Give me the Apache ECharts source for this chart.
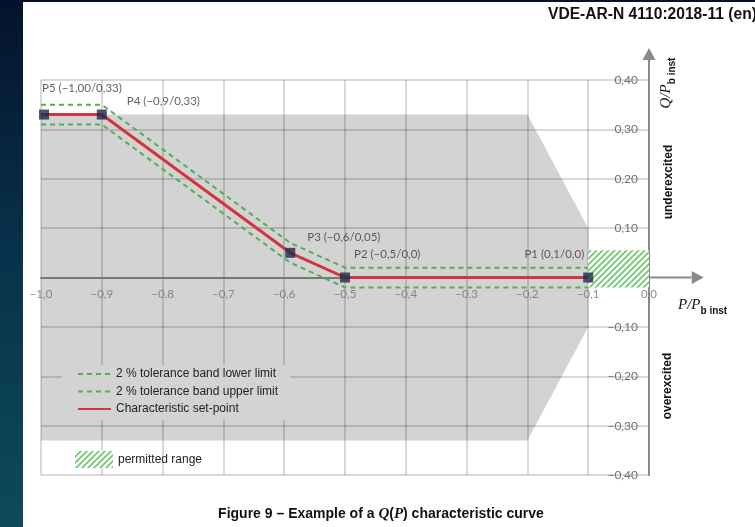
<!DOCTYPE html>
<html>
<head>
<meta charset="utf-8">
<script src="https://cdn.jsdelivr.net/npm/echarts@6.0.0/dist/echarts.min.js"></script>
<style>
html,body{margin:0;padding:0;width:755px;height:527px;overflow:hidden;}
body{background:linear-gradient(180deg,#04132b 0%,#08304a 45%,#0d4b5b 100%);}
#main{position:absolute;left:23px;top:2px;width:732px;height:525px;background:#fff;}
</style>
</head>
<body>
<div id="main"></div>
<script>
// Q(P) characteristic curve
var setpointP = [-1.0, -0.9, -0.59, -0.5, -0.1];
var setpointQ = [0.33, 0.33, 0.05, 0.0, 0.0];
var upperP = [-1.0, -0.9, -0.59, -0.5, -0.1];
var upperQ = [0.35, 0.35, 0.07, 0.02, 0.02];
var lowerP = [-1.0, -0.9, -0.59, -0.5, -0.1];
var lowerQ = [0.31, 0.31, 0.03, -0.02, -0.02];
var pointP = [-0.995, -0.9, -0.59, -0.5, -0.1];
var pointQ = [0.33, 0.33, 0.05, 0.0, 0.0];
var pointNames = ['P5 (\u22121,00/0,33)', 'P4 (\u22120,9/0,33)', 'P3 (\u22120,6/0,05)', 'P2 (\u22120,5/0,0)', 'P1 (0,1/0,0)'];
var grayP = [-1.0, -0.2, -0.1, -0.1, -0.2, -1.0];
var grayQ = [0.33, 0.33, 0.10, -0.10, -0.33, -0.33];
var hatchP = [-0.1, 0.0];
var hatchQ = [-0.02, 0.055];
// axis arrows: [from, tip]
var xArrowP = [0.0, 0.09];
var yArrowQ = [0.4, 0.465];
var xTickValues = [-1.0, -0.9, -0.8, -0.7, -0.6, -0.5, -0.4, -0.3, -0.2, -0.1, 0.0];
var xTickLabels = ['\u22121,0', '\u22120,9', '\u22120,8', '\u22120,7', '\u22120,6', '\u22120,5', '\u22120,4', '\u22120,3', '\u22120,2', '\u22120,1', '0,0'];
var yTickLabels = ['\u22120,40', '\u22120,30', '\u22120,20', '\u22120,10', '', '0,10', '0,20', '0,30', '0,40'];

var lowerName = '2 % tolerance band lower limit';
var upperName = '2 % tolerance band upper limit';
var setName = 'Characteristic set-point';
var rangeName = 'permitted range';

function pairs(xs, ys) {
  return xs.map(function (x, i) { return [x, ys[i]]; });
}

// hatch fill for the permitted range
var hc = document.createElement('canvas');
hc.width = 6; hc.height = 6;
var ctx = hc.getContext('2d');
ctx.fillStyle = '#ffffff';
ctx.fillRect(0, 0, 6, 6);
ctx.strokeStyle = '#6cc66c';
ctx.lineWidth = 1.6;
ctx.beginPath();
ctx.moveTo(-1, 7); ctx.lineTo(7, -1);
ctx.moveTo(-4, 4); ctx.lineTo(4, -4);
ctx.moveTo(2, 10); ctx.lineTo(10, 2);
ctx.stroke();
var hatch = { image: hc, repeat: 'repeat' };

var labelPlace = [
  { align: 'left', offset: [-2, -26] },
  { align: 'left', offset: [25, -13] },
  { align: 'left', offset: [17, -16] },
  { align: 'left', offset: [9, -23] },
  { align: 'right', offset: [-4, -23] }
];
var pointData = pointP.map(function (p, i) {
  return {
    value: [p, pointQ[i]],
    name: pointNames[i],
    label: { align: labelPlace[i].align, offset: labelPlace[i].offset }
  };
});
var xTickData = xTickValues.map(function (v, i) {
  return { value: [v, 0], name: xTickLabels[i] };
});

var axisGray = '#8a8a8a';

var chart = echarts.init(document.getElementById('main'));
var option = {
  animation: false,
  grid: { left: 18, top: 78, width: 608, height: 395, outerBoundsMode: 'none', containLabel: false },
  xAxis: {
    type: 'value', min: -1, max: 0, interval: 0.1,
    axisLine: { show: true, onZero: true, lineStyle: { color: '#777', width: 2 } },
    axisTick: { show: false },
    axisLabel: { show: false },
    splitLine: { show: true, lineStyle: { color: 'rgba(0,0,0,0.2)', width: 1.5 } }
  },
  yAxis: {
    type: 'value', min: -0.4, max: 0.4, interval: 0.1, position: 'right',
    axisLine: { show: true, onZero: false, lineStyle: { color: axisGray, width: 2 } },
    axisTick: { show: false },
    axisLabel: {
      inside: true, margin: 11, color: '#707070', fontFamily: 'Lato', fontSize: 12,
      showMinLabel: true, showMaxLabel: true, hideOverlap: false,
      formatter: function (v) { return yTickLabels[Math.round((v + 0.4) * 10)]; }
    },
    splitLine: { show: true, lineStyle: { color: 'rgba(0,0,0,0.2)', width: 1.5 } }
  },
  legend: [{
    orient: 'vertical', left: 39, top: 363,
    padding: [3, 12, 5, 15], itemGap: 5.5, itemWidth: 33, itemHeight: 14,
    backgroundColor: '#d3d3d3',
    selectedMode: false,
    itemStyle: { color: 'rgba(0,0,0,0)', borderWidth: 0, opacity: 0 },
    textStyle: { color: '#222', fontFamily: 'Liberation Sans', fontSize: 12 },
    data: [lowerName, upperName, setName]
  }, {
    left: 52, top: 449, padding: 0, itemWidth: 38, itemHeight: 17,
    selectedMode: false,
    textStyle: { color: '#222', fontFamily: 'Liberation Sans', fontSize: 12 },
    data: [{ name: rangeName, icon: 'rect', itemStyle: { color: hatch } }]
  }],
  series: [{
    name: 'gray', type: 'custom', z: -1, silent: true,
    data: [0],
    renderItem: function (params, api) {
      var pts = grayP.map(function (p, i) { return api.coord([p, grayQ[i]]); });
      return { type: 'polygon', shape: { points: pts }, style: { fill: '#d3d3d3' } };
    }
  }, {
    name: rangeName, type: 'custom', z: 1, silent: true,
    itemStyle: { color: hatch },
    data: [0],
    renderItem: function (params, api) {
      var a = api.coord([hatchP[0], hatchQ[1]]);
      var b = api.coord([hatchP[1], hatchQ[0]]);
      return { type: 'rect', shape: { x: a[0], y: a[1], width: b[0] - a[0], height: b[1] - a[1] }, style: { fill: hatch } };
    }
  }, {
    // extensions of the two axes with arrow heads
    name: 'arrows', type: 'custom', z: 2, silent: true, clip: false,
    data: [0],
    renderItem: function (params, api) {
      var x0 = api.coord([xArrowP[0], 0]), x1 = api.coord([xArrowP[1], 0]);
      var y0 = api.coord([0, yArrowQ[0]]), y1 = api.coord([0, yArrowQ[1]]);
      var L = 12, W = 6.5;
      return {
        type: 'group',
        children: [
          { type: 'line', shape: { x1: x0[0], y1: x0[1], x2: x1[0] - L, y2: x1[1] }, style: { stroke: axisGray, lineWidth: 2 } },
          { type: 'polygon', shape: { points: [[x1[0], x1[1]], [x1[0] - L, x1[1] - W], [x1[0] - L, x1[1] + W]] }, style: { fill: axisGray } },
          { type: 'line', shape: { x1: y0[0], y1: y0[1], x2: y1[0], y2: y1[1] + L }, style: { stroke: axisGray, lineWidth: 2 } },
          { type: 'polygon', shape: { points: [[y1[0], y1[1]], [y1[0] - W, y1[1] + L], [y1[0] + W, y1[1] + L]] }, style: { fill: axisGray } }
        ]
      };
    }
  }, {
    name: 'xTicks', type: 'scatter', z: 2, silent: true, clip: false,
    symbolSize: 1, itemStyle: { color: 'rgba(0,0,0,0)' },
    label: {
      show: true, position: 'inside', offset: [0, 17], formatter: '{b}',
      color: '#707070', fontFamily: 'Lato', fontSize: 11.5
    },
    data: xTickData
  }, {
    name: lowerName, type: 'line', symbol: 'none', z: 3,
    lineStyle: { color: '#4fb04f', width: 2, type: [5, 4] },
    itemStyle: { color: '#4fb04f' },
    data: pairs(lowerP, lowerQ)
  }, {
    name: upperName, type: 'line', symbol: 'none', z: 3,
    lineStyle: { color: '#4fb04f', width: 2, type: [5, 4] },
    itemStyle: { color: '#4fb04f' },
    data: pairs(upperP, upperQ)
  }, {
    name: setName, type: 'line', symbol: 'none', z: 4,
    lineStyle: { color: '#d2353a', width: 3 },
    itemStyle: { color: '#d2353a' },
    data: pairs(setpointP, setpointQ)
  }, {
    name: 'points', type: 'scatter', z: 5, silent: true, clip: false,
    symbol: 'rect', symbolSize: 10,
    itemStyle: { color: '#1b2a47' },
    label: {
      show: true, position: 'inside', formatter: '{b}',
      color: '#3a3a3a', fontFamily: 'Lato', fontSize: 11.5
    },
    data: pointData
  }],
  graphic: [{
    type: 'text', x: 525, y: 13,
    style: { text: 'VDE-AR-N 4110:2018-11 (en)', font: 'bold 15.6px "Liberation Sans"', fill: '#111', verticalAlign: 'middle', align: 'left' }
  }, {
    type: 'text', x: 358, y: 512,
    style: {
      text: '{b|Figure 9 \u2013 Example of a }{q|Q}{b|(}{q|P}{b|) characteristic curve}',
      align: 'center', verticalAlign: 'middle',
      rich: {
        b: { font: 'bold 14px "Liberation Sans"', fill: '#111' },
        q: { font: 'italic bold 15px "Liberation Serif"', fill: '#111' }
      }
    }
  }, {
    type: 'text', x: 645, y: 81, rotation: Math.PI / 2,
    style: {
      text: '{q|Q/P}{s|b inst}',
      align: 'center', verticalAlign: 'middle',
      rich: {
        q: { font: 'italic 15px "Liberation Serif"', fill: '#111', verticalAlign: 'bottom', padding: [0, 0, 4, 0] },
        s: { font: 'bold 10px "Liberation Sans"', fill: '#111', verticalAlign: 'bottom' }
      }
    }
  }, {
    type: 'text', x: 655, y: 305,
    style: {
      text: '{q|P/P}{s|b inst}',
      align: 'left', verticalAlign: 'middle',
      rich: {
        q: { font: 'italic 15px "Liberation Serif"', fill: '#111', verticalAlign: 'bottom', padding: [0, 0, 4, 0] },
        s: { font: 'bold 10px "Liberation Sans"', fill: '#111', verticalAlign: 'bottom' }
      }
    }
  }, {
    type: 'text', x: 646, y: 180, rotation: Math.PI / 2,
    style: { text: 'underexcited', font: 'bold 12px "Liberation Sans"', fill: '#111', align: 'center', verticalAlign: 'middle' }
  }, {
    type: 'text', x: 645, y: 384, rotation: Math.PI / 2,
    style: { text: 'overexcited', font: 'bold 12px "Liberation Sans"', fill: '#111', align: 'center', verticalAlign: 'middle' }
  }]
};
chart.setOption(option);
</script>
</body>
</html>
